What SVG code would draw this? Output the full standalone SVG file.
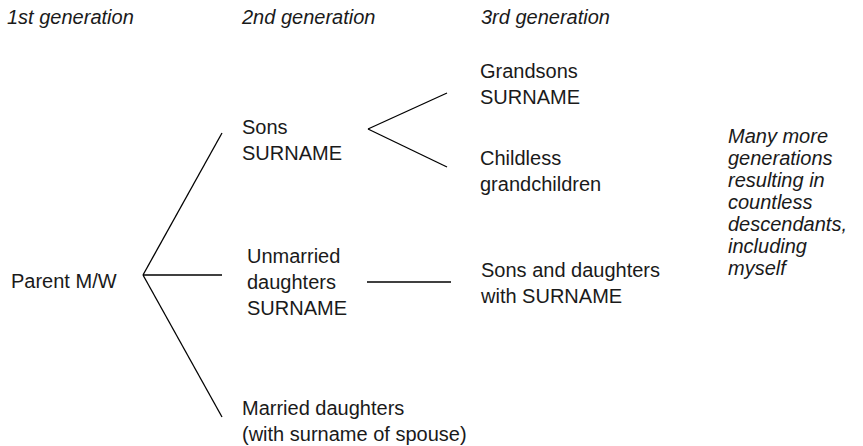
<svg xmlns="http://www.w3.org/2000/svg" width="863" height="446" viewBox="0 0 863 446">
<style>
text{font-family:"Liberation Sans",Arial,sans-serif;font-size:20px;fill:#1a1a1a}
.it{font-style:italic}
.c line{stroke:#000;stroke-width:1.3}
</style>
<rect width="863" height="446" fill="#fff"/>
<g id="headers">
<text class="it" x="7" y="24">1st generation</text>
<text class="it" x="242" y="24">2nd generation</text>
<text class="it" x="481" y="24">3rd generation</text>
</g>
<g class="c" id="connectors">
<line x1="143" y1="275" x2="222" y2="133"/>
<line x1="143" y1="275" x2="222" y2="275"/>
<line x1="143" y1="275" x2="222" y2="417"/>
<line x1="368" y1="129" x2="447" y2="93"/>
<line x1="368" y1="129" x2="447" y2="167"/>
<line x1="367" y1="282" x2="451" y2="282"/>
</g>
<g id="parent"><text x="11" y="288">Parent M/W</text></g>
<g id="sons"><text x="242" y="134">Sons</text><text x="242" y="160">SURNAME</text></g>
<g id="unmarried"><text x="247" y="263">Unmarried</text><text x="247" y="289">daughters</text><text x="247" y="315">SURNAME</text></g>
<g id="married"><text x="242" y="415">Married daughters</text><text x="242" y="441">(with surname of spouse)</text></g>
<g id="grandsons"><text x="480" y="78">Grandsons</text><text x="480" y="104">SURNAME</text></g>
<g id="childless"><text x="480" y="165">Childless</text><text x="480" y="191">grandchildren</text></g>
<g id="sonsdaughters"><text x="481" y="277">Sons and daughters</text><text x="481" y="303">with SURNAME</text></g>
<g id="more">
<text class="it" x="728" y="143">Many more</text>
<text class="it" x="728" y="165">generations</text>
<text class="it" x="728" y="187">resulting in</text>
<text class="it" x="728" y="209">countless</text>
<text class="it" x="728" y="231">descendants,</text>
<text class="it" x="728" y="253">including</text>
<text class="it" x="728" y="275">myself</text>
</g>
</svg>
